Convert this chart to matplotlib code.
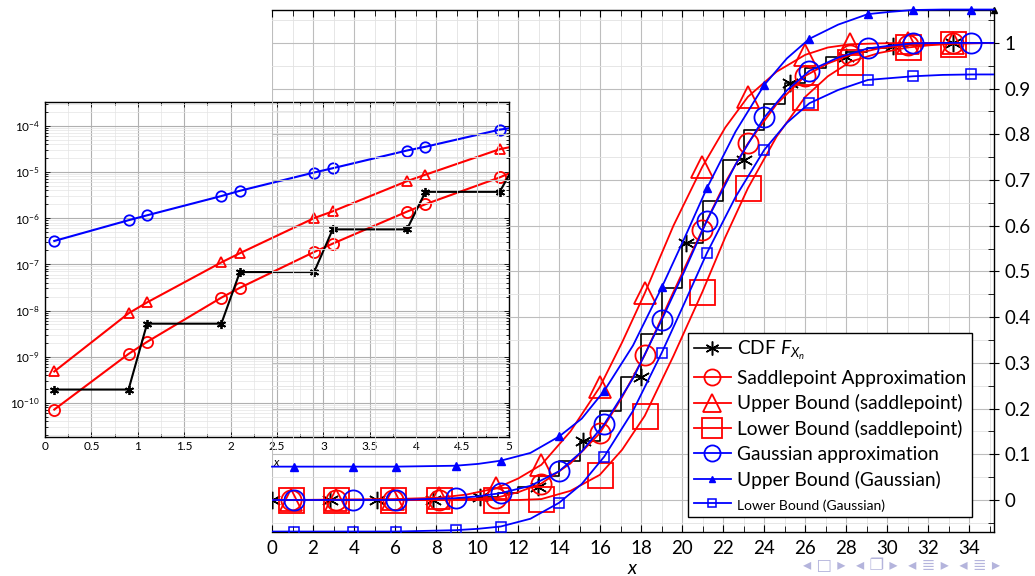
import numpy as np
import matplotlib
matplotlib.use("Agg")
import matplotlib.pyplot as plt
from matplotlib.ticker import MultipleLocator, LogLocator, FixedLocator, NullFormatter

plt.rcParams['font.family'] = ['Lato', 'DejaVu Sans']
plt.rcParams['mathtext.fontset'] = 'custom'
plt.rcParams['mathtext.rm'] = 'Lato'
plt.rcParams['mathtext.it'] = 'Lato:italic'

# ---------------- main plot data ----------------
# exact CDF (step function, value on [k, k+1))
cdf_k = list(range(0, 36))
cdf_F = [0, 0, 0, 0, 0, 0.00003, 0.00015, 0.0005, 0.0013, 0.003,
         0.007, 0.015, 0.029, 0.052, 0.085, 0.128, 0.195, 0.27, 0.363, 0.463,
         0.562, 0.655, 0.744, 0.81, 0.867, 0.913, 0.945, 0.97, 0.98, 0.988,
         0.993, 0.996, 0.998, 0.999, 1.0, 1.0]
# star markers on the CDF
cdf_mx = [0.0, 2.83, 5.1, 7.86, 10.13, 12.97, 15.16, 18.0, 20.19, 23.0, 25.23, 27.99, 30.26, 33.19]
cdf_my = [0, 0, 0, 0.001, 0.007, 0.029, 0.128, 0.27, 0.562, 0.744, 0.913, 0.97, 0.993, 1.0]

# saddlepoint family (red): curve samples; markers at sp_mark indices
sp_x = [0, 0.93, 3.12, 5.91, 8.15, 9.5, 10.94, 12.0, 13.13, 14.55, 15.98, 17.07, 18.17, 19.57,
        20.98, 22.1, 23.2, 24.6, 26.0, 27.1, 28.2, 29.6, 31.0, 32.1, 33.2, 35.2]
sp_approx = [0, 0, 0, 0, 0.001, 0.002, 0.005, 0.017, 0.036, 0.08, 0.146, 0.225, 0.317, 0.455,
             0.591, 0.695, 0.78, 0.866, 0.928, 0.955, 0.974, 0.988, 0.995, 0.998, 1.0, 1.0]
sp_upper = [0, 0.0, 0.001, 0.002, 0.005, 0.012, 0.026, 0.047, 0.077, 0.15, 0.247, 0.345, 0.452, 0.60,
            0.729, 0.815, 0.882, 0.937, 0.974, 0.99, 0.997, 0.999, 1.0, 1.0, 1.0, 1.0]
sp_lower = [0, 0, 0, 0, 0, 0, 0.0, 0.0, 0.002, 0.02, 0.055, 0.11, 0.184, 0.315,
            0.455, 0.575, 0.682, 0.795, 0.882, 0.927, 0.959, 0.978, 0.99, 0.995, 0.998, 1.0]
sp_mark = [1, 2, 3, 4, 6, 8, 10, 12, 14, 16, 18, 20, 22, 24]

# Gaussian family (blue)
g_x = [0, 1.05, 3.95, 6.05, 8.95, 10.05, 11.15, 12.6, 14.0, 15.1, 16.2, 17.6, 19.0, 20.1, 21.2,
       22.6, 24.0, 25.1, 26.2, 27.6, 29.05, 30.15, 31.25, 32.7, 34.1, 35.2]
g_approx = [0, 0, 0, 0, 0.004, 0.008, 0.015, 0.031, 0.063, 0.106, 0.166, 0.266, 0.394, 0.50, 0.611,
            0.734, 0.837, 0.896, 0.939, 0.968, 0.988, 0.994, 0.999, 1.0, 1.0, 1.0]
g_upper = [0.073, 0.073, 0.073, 0.073, 0.075, 0.079, 0.086, 0.103, 0.139, 0.178, 0.239, 0.338, 0.465, 0.572,
           0.682, 0.806, 0.908, 0.966, 1.009, 1.04, 1.063, 1.068, 1.072, 1.073, 1.073, 1.073]
g_lower = [-0.069, -0.069, -0.069, -0.069, -0.066, -0.063, -0.058, -0.041, -0.006, 0.035, 0.095, 0.195, 0.322,
           0.43, 0.54, 0.663, 0.766, 0.825, 0.868, 0.897, 0.919, 0.923, 0.927, 0.93, 0.931, 0.931]
g_mark = [1, 2, 3, 4, 6, 8, 10, 12, 14, 16, 18, 20, 22, 24]

x_ticks = list(range(0, 35, 2))
y_ticks = [0, 0.1, 0.2, 0.3, 0.4, 0.5, 0.6, 0.7, 0.8, 0.9, 1]
y_tick_labels = ['0', '0.1', '0.2', '0.3', '0.4', '0.5', '0.6', '0.7', '0.8', '0.9', '1']

# ---------------- inset data ----------------
in_x = [0.1, 0.9, 1.1, 1.9, 2.1, 2.9, 3.1, 3.9, 4.1, 4.9, 5.0]
in_cdf = [1.95e-10, 1.95e-10, 5.2e-9, 5.2e-9, 6.8e-8, 6.8e-8, 5.7e-7, 5.7e-7, 3.7e-6, 3.7e-6, 8.5e-6]
in_sp = [7.2e-11, 1.15e-9, 2.1e-9, 1.9e-8, 3.1e-8, 1.85e-7, 2.8e-7, 1.38e-6, 2.0e-6, 7.6e-6, 9.3e-6]
in_up = [4.8e-10, 8.7e-9, 1.5e-8, 1.1e-7, 1.74e-7, 1.0e-6, 1.4e-6, 6.3e-6, 8.7e-6, 3.1e-5, 3.4e-5]
in_gauss = [3.2e-7, 9.0e-7, 1.15e-6, 3.0e-6, 3.9e-6, 9.7e-6, 1.2e-5, 2.9e-5, 3.5e-5, 8.2e-5, 8.8e-5]
in_x_ticks = [0, 0.5, 1, 1.5, 2, 2.5, 3, 3.5, 4, 4.5, 5]
in_x_labels = ['0', '0.5', '1', '1.5', '2', '2.5', '3', '3.5', '4', '4.5', '5']
in_y_ticks = [1e-10, 1e-9, 1e-8, 1e-7, 1e-6, 1e-5, 1e-4]
in_y_labels = [r'$10^{-10}$', r'$10^{-9}$', r'$10^{-8}$', r'$10^{-7}$', r'$10^{-6}$', r'$10^{-5}$', r'$10^{-4}$']

RED = '#ff0000'
BLUE = '#0000ff'

fig = plt.figure(figsize=(10.35, 5.76), dpi=100)

# ---------------- inset (drawn first, underneath) ----------------
axi = fig.add_axes([45/1035, 1 - 436.7/576, 464/1035, (436.7 - 102.3)/576], zorder=1)
axi.set_yscale('log')
axi.set_xlim(0, 5)
axi.set_ylim(10**-10.73, 10**-3.494)
mk = slice(0, 10)
axi.plot(in_x, in_gauss, color=BLUE, lw=1.5, marker='o', ms=7.5, mfc='none', mew=1.3, markevery=mk)
axi.plot(in_x, in_up, color=RED, lw=1.5, marker='^', ms=7.5, mfc='none', mew=1.3, markevery=mk)
axi.plot(in_x, in_sp, color=RED, lw=1.5, marker='o', ms=8, mfc='none', mew=1.3, markevery=mk)
axi.plot(in_x, in_cdf, color='black', lw=1.5, marker=(6, 2, 0), ms=6.5, mew=1.3, markevery=mk)
axi.set_xticks(in_x_ticks)
axi.set_xticklabels(in_x_labels)
axi.xaxis.set_minor_locator(MultipleLocator(0.25))
axi.yaxis.set_major_locator(FixedLocator(in_y_ticks))
axi.set_yticklabels(in_y_labels)
axi.yaxis.set_minor_locator(LogLocator(base=10, subs=np.arange(2, 10)))
axi.yaxis.set_minor_formatter(NullFormatter())
axi.tick_params(which='both', direction='in', top=True, right=True, labelsize=8.5, width=0.6)
axi.tick_params(which='major', length=3.5)
axi.tick_params(which='minor', length=2)
axi.tick_params(axis='x', pad=3)
axi.grid(which='major', color='#b0b0b0', lw=0.8)
axi.grid(which='minor', color='#e4e4e4', lw=0.5)
for s in axi.spines.values():
    s.set_linewidth(1.0)
axi.set_xlabel('$x$', fontsize=8.5, labelpad=4)
axi.set_facecolor('white')

# ---------------- main plot ----------------
ax = fig.add_axes([272/1035, 1 - 532/576, 722/1035, 522/576], zorder=2)
ax.set_facecolor('none')
ax.set_xlim(0, 35.2)
ax.set_ylim(-0.07, 1.072)

ax.step(cdf_k, cdf_F, where='post', color='black', lw=1.2, zorder=3)
ax.plot(cdf_mx, cdf_my, ls='none', marker=(6, 2, 0), ms=12.5, color='black', mew=1.1, zorder=3)
h_cdf, = ax.plot([], [], color='black', lw=1.2, marker=(6, 2, 0), ms=12.5, mew=1.1)

h_sp, = ax.plot(sp_x, sp_approx, color=RED, lw=1.3, marker='o', ms=14.5, mfc='none', mew=1.3,
                markevery=sp_mark, zorder=4)
h_su, = ax.plot(sp_x, sp_upper, color=RED, lw=1.3, marker='^', ms=16, mfc='none', mew=1.3,
                markevery=sp_mark, zorder=4)
h_sl, = ax.plot(sp_x, sp_lower, color=RED, lw=1.3, marker='s', ms=18, mfc='none', mew=1.3,
                markevery=sp_mark, zorder=4)
h_g, = ax.plot(g_x, g_approx, color=BLUE, lw=1.3, marker='o', ms=14.5, mfc='none', mew=1.3,
               markevery=g_mark, zorder=5)
h_gu, = ax.plot(g_x, g_upper, color=BLUE, lw=1.3, marker='^', ms=6, mfc=BLUE, mew=1.0,
                markevery=g_mark, zorder=5, clip_on=False)
h_gl, = ax.plot(g_x, g_lower, color=BLUE, lw=1.3, marker='s', ms=7, mfc='none', mew=1.1,
                markevery=g_mark, zorder=5)

ax.set_xticks(x_ticks)
ax.xaxis.set_minor_locator(MultipleLocator(1))
ax.yaxis.tick_right()
ax.set_yticks(y_ticks)
ax.set_yticklabels(y_tick_labels)
ax.yaxis.set_minor_locator(MultipleLocator(0.05))
ax.tick_params(axis='x', which='both', direction='in', top=True, bottom=True, labelsize=13.5, pad=6)
ax.tick_params(axis='y', which='major', direction='inout', length=7, labelsize=13.5, pad=4,
               left=False, right=True)
ax.tick_params(axis='y', which='minor', direction='in', length=4, left=False, right=True)
ax.tick_params(axis='x', which='major', length=5)
ax.tick_params(axis='x', which='minor', length=4)
ax.grid(which='major', color='#bdbdbd', lw=0.8)
ax.grid(which='minor', color='#e2e2e2', lw=0.6)
ax.set_axisbelow(True)
ax.spines['left'].set_visible(False)
for k in ('top', 'right', 'bottom'):
    ax.spines[k].set_linewidth(1.0)
ax.plot([1.0], [1.0], transform=ax.transAxes, marker='^', ms=4, color='black', clip_on=False)
ax.set_xlabel('$x$', fontsize=14, labelpad=2)

leg = ax.legend([h_cdf, h_sp, h_su, h_sl, h_g, h_gu, h_gl],
                [r'CDF $F_{X_n}$', 'Saddlepoint Approximation', 'Upper Bound (saddlepoint)',
                 'Lower Bound (saddlepoint)', 'Gaussian approximation', 'Upper Bound (Gaussian)',
                 'Lower Bound (Gaussian)'],
                loc='lower left', bbox_to_anchor=(0.576, 0.028), fontsize=13.8,
                frameon=True, fancybox=False, edgecolor='black', framealpha=1,
                handlelength=1.95, handletextpad=0.3, labelspacing=0.4, borderpad=0.3,
                borderaxespad=0, markerscale=0.8)
leg.get_frame().set_linewidth(1.0)
leg.get_texts()[-1].set_fontsize(10)
leg.set_zorder(10)

fig.text(0.776, 1 - 566/576,
         '\u25c2 \u25a1 \u25b8  \u25c2 \u2750 \u25b8  \u25c2 \u2263 \u25b8  \u25c2 \u2263 \u25b8',
         fontsize=11.8, color='#b4b4dc', family=['DejaVu Sans', 'Noto Sans', 'Noto Sans CJK SC'],
         va='center')

fig.savefig('out.png', dpi=100)
